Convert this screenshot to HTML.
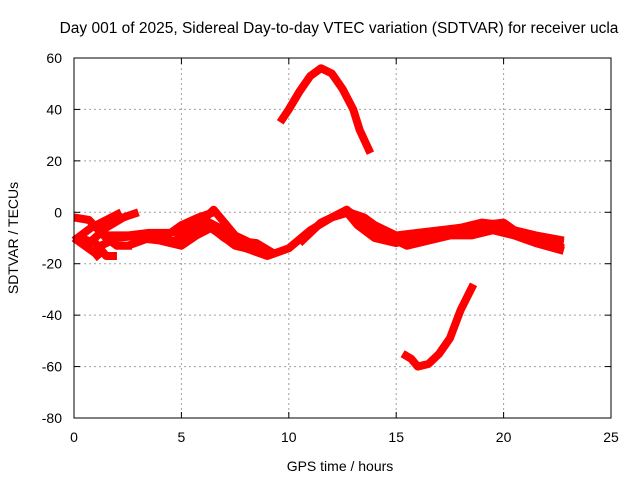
<!DOCTYPE html>
<html><head><meta charset="utf-8"><style>
body{margin:0;background:#fff}
svg text{font-family:"Liberation Sans",sans-serif;font-size:14px;fill:#000}
</style></head><body>
<svg width="640" height="480" xmlns="http://www.w3.org/2000/svg">
<rect width="640" height="480" fill="#fff"/>
<g id="grid"></g>
<g id="series"></g>
<rect x="74" y="58" width="537" height="360" fill="none" stroke="#000" stroke-width="1"/>
<g id="ticks"></g>
<text x="339" y="33" text-anchor="middle" style="font-size:15.5px">Day 001 of 2025, Sidereal Day-to-day VTEC variation (SDTVAR) for receiver ucla</text>
<text x="340" y="471" text-anchor="middle">GPS time / hours</text>
<text transform="translate(18,238) rotate(-90)" text-anchor="middle">SDTVAR / TECUs</text>
</svg>
<script>
const xTicks=[0,5,10,15,20,25];
const yTicks=[60,40,20,0,-20,-40,-60,-80];
const arcTopX=[9.6,10,10.5,11,11.5,12,12.5,13,13.3,13.8];
const arcTopY=[35,40,47,53,56,54,48,40,32,23];
const arcBotX=[15.3,15.7,16,16.5,17,17.5,18,18.6];
const arcBotY=[-55,-57,-60,-59,-55,-49,-38,-28];
const sAX=[0,0.7,1.5,2,2.7];const sAY=[-2,-3,-10,-13,-13];
const sBX=[0,0.8,1.5,2.2];const sBY=[-11,-6,-3,0];
const sCX=[0.3,1,1.5,2];const sCY=[-10,-12,-17,-17];
const sDX=[0.7,1.5,2.3,3];const sDY=[-12,-6,-2,0];
const sEX=[0,1,1.2];const sEY=[-10,-16,-18];
const sFX=[1.5,2.5,3.5,4.5,5.5,6.3,7,7.5,8.5,9.3];const sFY=[-9,-9,-8,-8,-6,-4,-7,-11,-12,-16];
const sGX=[1,2,3,4,5,5.5,6,6.5,7,7.5,8.5,9];const sGY=[-14,-10,-9,-10,-12,-8,-3,1,-4,-9,-13,-15];
const sHX=[4.5,5.3,6,6.7,7.5,8,9,10,11,12,12.8,13.5,14,15,16,17,18,19,20,21,22,22.8];
const sHY=[-12,-8,-4,-8,-13,-14,-17,-14,-7,-2,0,-2,-5,-9,-8,-7,-8,-5,-4,-10,-12,-14];
const sIX=[10.5,11,11.5,12,12.7,13.3,14,15,16,17,18,19,19.8,20.5,21.5,22.8];
const sIY=[-12,-8,-4,-2,1,-3,-8,-11,-10,-8,-7,-6,-5,-7,-9,-11];
const sJX=[12.8,13.2,14,15,16,17,18,19,20,21,22,22.8];
const sJY=[-1,-5,-10,-12,-9,-7,-6,-4,-5,-9,-11,-12];
const sKX=[2.5,3.5,4.5,5,5.8,6.5];const sKY=[-13,-10,-8,-5,-2,0];
const sLX=[3,4,5,5.7,6.4,7,8,9];const sLY=[-10,-11,-13,-9,-6,-10,-14,-16];
const sMX=[13.5,14.5,15.5,16.5,17.5,18.5,19.5,20.5,21.5,22.8];const sMY=[-4,-9,-13,-11,-9,-9,-7,-9,-12,-15];
const X=v=>74+v*537/25, Y=v=>58+(60-v)*360/140;
const NS="http://www.w3.org/2000/svg";
const grid=document.getElementById('grid'),ticks=document.getElementById('ticks'),ser=document.getElementById('series');
function mk(t,a,p){const e=document.createElementNS(NS,t);for(const k in a)e.setAttribute(k,a[k]);p.appendChild(e);return e;}
xTicks.forEach(t=>{const x=X(t);
 if(t>0&&t<25){const g=mk('line',{x1:x,y1:58,x2:x,y2:418,stroke:'#a0a0a0','stroke-dasharray':'2,3'},grid);
 
 }
 mk('line',{x1:x,y1:418,x2:x,y2:412,stroke:'#000'},ticks);mk('line',{x1:x,y1:58,x2:x,y2:64,stroke:'#000'},ticks);
 const l=mk('text',{x:x,y:442,'text-anchor':'middle'},ticks);l.textContent=t;
 
 });
yTicks.forEach(t=>{const y=Y(t);
 if(t<60&&t>-80){const g=mk('line',{x1:74,y1:y,x2:611,y2:y,stroke:'#a0a0a0','stroke-dasharray':'2,3'},grid);
 
 }
 mk('line',{x1:74,y1:y,x2:80,y2:y,stroke:'#000'},ticks);mk('line',{x1:611,y1:y,x2:605,y2:y,stroke:'#000'},ticks);
 const l=mk('text',{x:62,y:y+5,'text-anchor':'end'},ticks);l.textContent=t;
 
 });
const all=[[arcTopX,arcTopY],[arcBotX,arcBotY],[sAX,sAY],[sBX,sBY],[sCX,sCY],[sDX,sDY],[sEX,sEY],[sFX,sFY],[sGX,sGY],[sHX,sHY],[sIX,sIY],[sJX,sJY],[sKX,sKY],[sLX,sLY],[sMX,sMY]];
all.forEach(([xs,ys])=>{const pts=xs.map((x,i)=>X(x)+','+Y(ys[i])).join(' ');
 const p=mk('polyline',{points:pts,fill:'none',stroke:'#ff0000','stroke-width':8,'stroke-linejoin':'round','stroke-linecap':'butt'},ser);
 
 });
</script>
</body></html>
